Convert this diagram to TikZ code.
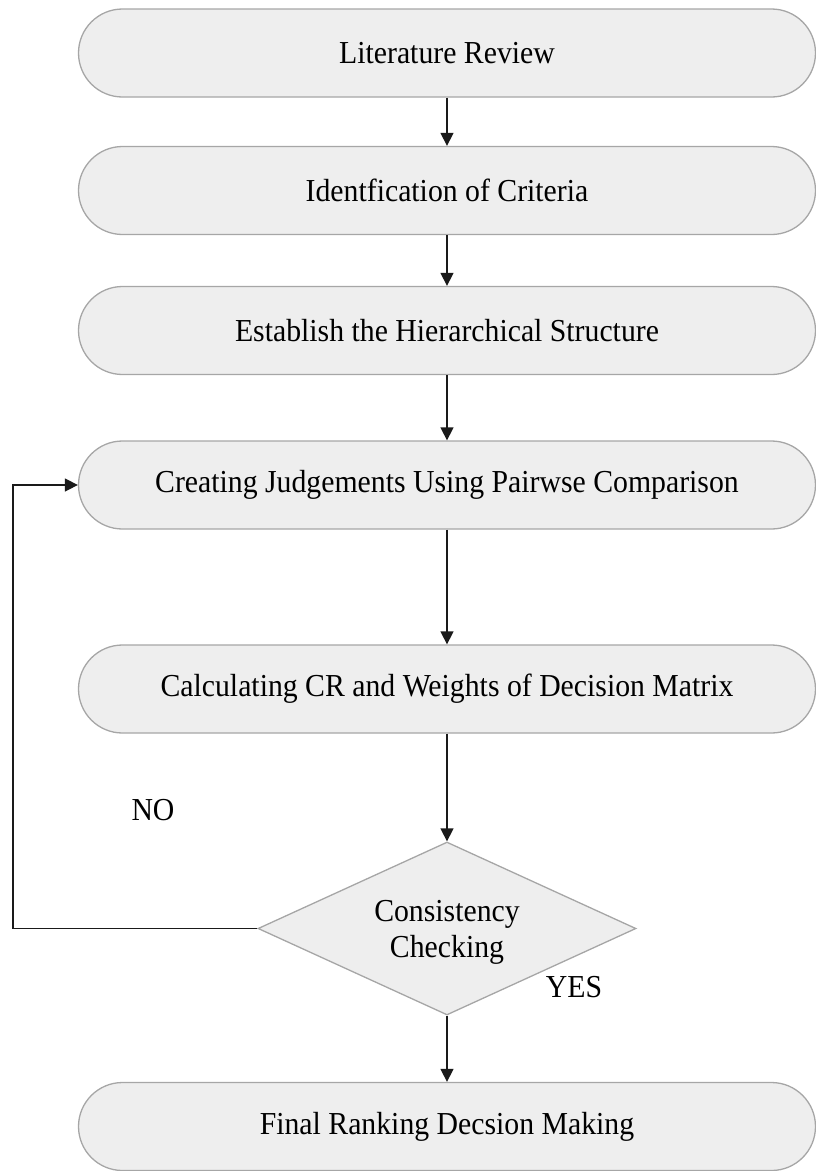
\documentclass[tikz,border=0pt]{standalone}
\usepackage{fontspec}
\setmainfont[FakeStretch=0.93]{Liberation Serif}
\usetikzlibrary{shapes.geometric,arrows.meta}

\definecolor{boxfill}{HTML}{EEEEEE}
\definecolor{boxline}{HTML}{A6A6A6}
\definecolor{flowline}{HTML}{1A1A1A}

\tikzset{
  stagebox/.style={draw=boxline, fill=boxfill, line width=1.3pt,
    rounded corners=44pt, minimum width=737pt, minimum height=88pt,
    inner sep=0pt, font=\fontsize{32}{36}\selectfont},
  decisionbox/.style={draw=boxline, fill=boxfill, line width=1.3pt,
    shape=diamond, minimum width=378pt, minimum height=173pt,
    inner sep=0pt},
  decisiontext/.style={align=center, inner sep=0pt,
    font=\fontsize{32}{36}\selectfont},
  flowarrow/.style={draw=flowline, line width=1.3pt,
    -{Triangle[length=13pt,width=13pt]}},
  flowlabel/.style={font=\fontsize{32}{36}\selectfont, inner sep=0pt}
}

\begin{document}
\begin{tikzpicture}[x=1pt,y=-1pt]
  \useasboundingbox (0,0) rectangle (816,1171);

  % process stages
  \node[stagebox] (lit)   at (447,53)    {Literature Review};
  \node[stagebox] (crit)  at (447,190.5) {Identfication of Criteria};
  \node[stagebox] (hier)  at (447,330.5) {Establish the Hierarchical Structure};
  \node[stagebox] (judge) at (447,485)   {Creating Judgements Using Pairwse Comparison};
  \node[stagebox] (calc)  at (447,689)   {Calculating CR and Weights of Decision Matrix};
  \node[decisionbox] (check) at (447,928.5) {};
  \node[decisiontext] (checktext) at (447,932) {Consistency\\Checking};
  \node[stagebox] (final) at (447,1126.5) {Final Ranking Decsion Making};

  % main flow
  \draw[flowarrow] (lit.south)   -- (crit.north);
  \draw[flowarrow] (crit.south)  -- (hier.north);
  \draw[flowarrow] (hier.south)  -- (judge.north);
  \draw[flowarrow] (judge.south) -- (calc.north);
  \draw[flowarrow] (calc.south)  -- (check.north);
  \draw[flowarrow] (check.south) -- (final.north);

  % feedback loop when the check fails
  \coordinate (loopcorner) at (13,928.5);
  \draw[flowarrow, line width=1.5pt] (check.west) -- (loopcorner) |- (judge.west);

  % branch labels
  \node[flowlabel] (no)  at (153,810) {NO};
  \node[flowlabel] (yes) at (574,987) {YES};
\end{tikzpicture}
\end{document}
